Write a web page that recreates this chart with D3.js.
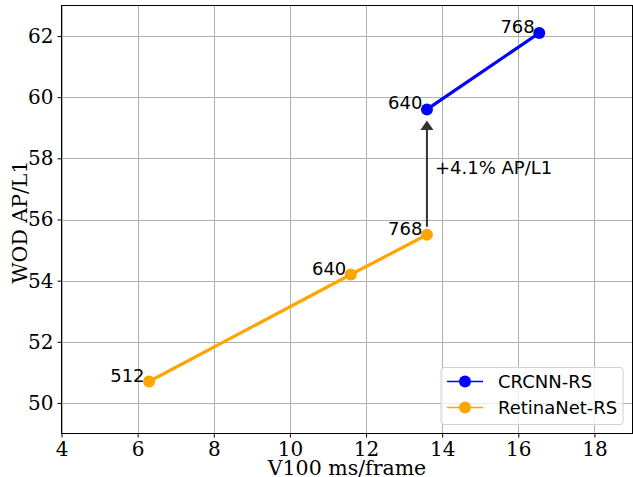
<!DOCTYPE html>
<html>
<head>
<meta charset="UTF-8" />
<title>WOD AP/L1 vs V100 latency</title>
<style>
  body { margin: 0; background: #fff; }
  .tick text { font-family: "DejaVu Serif", serif; font-size: 20px; fill: #000; }
</style>
</head>
<body>
<script src="https://d3js.org/d3.v7.min.js"></script>
<script>
// data
var seriesNames = ["CRCNN-RS", "RetinaNet-RS"];
var seriesColors = ["#0000ff", "#ffa500"];
var crcnnMs = [13.6, 16.55];
var crcnnAP = [59.6, 62.1];
var crcnnRes = ["640", "768"];
var retinaMs = [6.3, 11.6, 13.6];
var retinaAP = [50.7, 54.2, 55.5];
var retinaRes = ["512", "640", "768"];
var xTicks = [4, 6, 8, 10, 12, 14, 16, 18];
var yTicks = [50, 52, 54, 56, 58, 60, 62];
var gainText = "+4.1% AP/L1";

var W = 633, H = 477;
var svg = d3.select("body").append("svg").attr("width", W).attr("height", H);

var x = d3.scaleLinear().domain([4, 19]).range([61.5, 632.5]);
var y = d3.scaleLinear().domain([49, 63]).range([433.5, 5.5]);

// grid
var grid = svg.append("g");
grid.selectAll(".gx").data(xTicks).join("line")
    .attr("x1", function(d) { return Math.round(x(d)) + 0.5; })
    .attr("x2", function(d) { return Math.round(x(d)) + 0.5; })
    .attr("y1", y(63)).attr("y2", y(49))
    .attr("stroke", "#b0b0b0").attr("stroke-width", 1);
grid.selectAll(".gy").data(yTicks).join("line")
    .attr("y1", function(d) { return Math.round(y(d)) + 0.5; })
    .attr("y2", function(d) { return Math.round(y(d)) + 0.5; })
    .attr("x1", x(4)).attr("x2", x(19))
    .attr("stroke", "#b0b0b0").attr("stroke-width", 1);

// axes
var xAxis = svg.append("g").attr("transform", "translate(0," + y(49) + ")")
    .call(d3.axisBottom(x).tickValues(xTicks).tickSize(4).tickPadding(4).tickFormat(d3.format("d")));
var yAxis = svg.append("g").attr("transform", "translate(" + x(4) + ",0)")
    .call(d3.axisLeft(y).tickValues(yTicks).tickSize(4).tickPadding(4).tickFormat(d3.format("d")));
[xAxis, yAxis].forEach(function(a) {
    a.select(".domain").remove();
    a.selectAll(".tick line").attr("stroke", "#000");
});

// frame
svg.append("rect")
    .attr("x", x(4)).attr("y", y(63))
    .attr("width", x(19) - x(4)).attr("height", y(49) - y(63))
    .attr("fill", "none").attr("stroke", "#000").attr("stroke-width", 1);

// arrow between the two 768/640 points
var arrowX = x(crcnnMs[0]);
svg.append("line")
    .attr("x1", arrowX).attr("x2", arrowX)
    .attr("y1", y(retinaAP[2]) - 8).attr("y2", y(crcnnAP[0]) + 20)
    .attr("stroke", "#333").attr("stroke-width", 2);
var tipY = y(crcnnAP[0]) + 11;
svg.append("path")
    .attr("d", "M" + arrowX + "," + tipY + "L" + (arrowX - 6.5) + "," + (tipY + 9.5) +
        "L" + (arrowX + 6.5) + "," + (tipY + 9.5) + "Z")
    .attr("fill", "#333");
svg.append("text")
    .attr("x", arrowX + 8).attr("y", (y(retinaAP[2]) + y(crcnnAP[0])) / 2 + 2)
    .attr("font-family", "DejaVu Sans, sans-serif").attr("font-size", 18)
    .text(gainText);

// series
var line = d3.line().x(function(d) { return x(d[0]); }).y(function(d) { return y(d[1]); });
var series = [
    { pts: d3.zip(retinaMs, retinaAP, retinaRes), color: seriesColors[1] },
    { pts: d3.zip(crcnnMs, crcnnAP, crcnnRes), color: seriesColors[0] }
];
series.forEach(function(s) {
    svg.append("path").datum(s.pts).attr("d", line)
        .attr("fill", "none").attr("stroke", s.color).attr("stroke-width", 3.2);
    svg.append("g").selectAll("circle").data(s.pts).join("circle")
        .attr("cx", function(d) { return x(d[0]); })
        .attr("cy", function(d) { return y(d[1]); })
        .attr("r", 6).attr("fill", s.color);
    svg.append("g").selectAll("text").data(s.pts).join("text")
        .attr("x", function(d) { return x(d[0]) - 4.5; })
        .attr("y", function(d) { return y(d[1]); })
        .attr("text-anchor", "end")
        .attr("font-family", "DejaVu Sans, sans-serif").attr("font-size", 18)
        .text(function(d) { return d[2]; });
});

// axis labels
svg.append("text")
    .attr("x", (x(4) + x(19)) / 2).attr("y", 475)
    .attr("text-anchor", "middle")
    .attr("font-family", "DejaVu Serif, serif").attr("font-size", 20.5)
    .text("V100 ms/frame");
svg.append("text")
    .attr("transform", "translate(27,222) rotate(-90)")
    .attr("text-anchor", "middle")
    .attr("font-family", "DejaVu Serif, serif").attr("font-size", 20.5)
    .text("WOD AP/L1");

// legend
var lg = svg.append("g").attr("transform", "translate(441,367.5)");
lg.append("rect").attr("width", 182).attr("height", 57).attr("rx", 3)
    .attr("fill", "#fff").attr("fill-opacity", 0.8)
    .attr("stroke", "#d0d0d0").attr("stroke-width", 1);
seriesNames.forEach(function(name, i) {
    var yy = 14 + i * 26;
    lg.append("line").attr("x1", 6).attr("x2", 42).attr("y1", yy).attr("y2", yy)
        .attr("stroke", seriesColors[i]).attr("stroke-width", 1.5);
    lg.append("circle").attr("cx", 24).attr("cy", yy).attr("r", 6).attr("fill", seriesColors[i]);
    lg.append("text").attr("x", 57).attr("y", yy + 6.5)
        .attr("font-family", "DejaVu Sans, sans-serif").attr("font-size", 18)
        .text(name);
});
</script>
</body>
</html>
